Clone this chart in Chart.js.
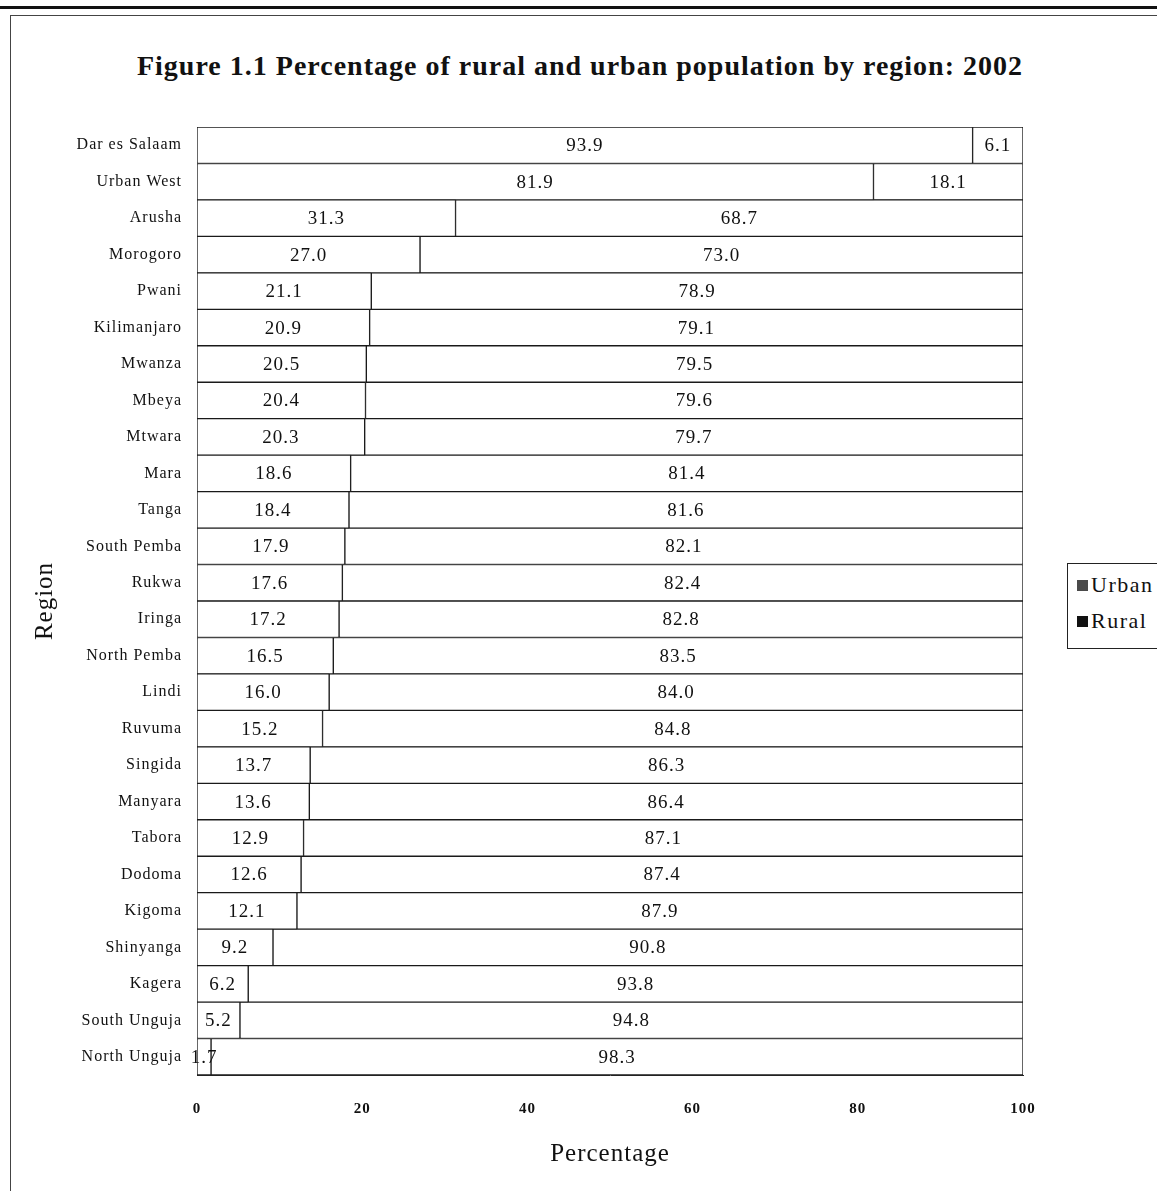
<!DOCTYPE html>
<html>
<head>
<meta charset="utf-8">
<script src="https://cdn.jsdelivr.net/npm/chart.js@4.4.1/dist/chart.umd.min.js"></script>
<style>
  html, body { margin: 0; padding: 0; background: #fff; overflow: hidden; }
  body { width: 1157px; height: 1191px; position: relative; font-family: "Liberation Serif", "DejaVu Serif", serif; color: #111; }
  #topRule { position: absolute; left: 0; top: 6px; width: 1157px; height: 3px; background: #111; }
  #frame { position: absolute; left: 10px; top: 15px; width: 1200px; height: 1250px; border: 1px solid #444; }
  #chart { position: absolute; left: 0; top: 0; }
  #title {
    position: absolute; left: 0; top: 48px; width: 1160px; text-align: center;
    font-size: 28px; font-weight: bold; letter-spacing: 1px; line-height: 36px; white-space: nowrap;
  }
  #legend {
    position: absolute; left: 1067px; top: 563px; width: 110px; height: 84px;
    border: 1px solid #222; background: #fff; font-size: 22px; letter-spacing: 1.5px;
  }
  #legend .item { position: absolute; left: 9px; height: 26px; line-height: 26px; white-space: nowrap; }
  #legend .swatch { display: inline-block; width: 11px; height: 11px; margin-right: 3px; vertical-align: 1px; }
</style>
</head>
<body>
<div id="topRule"></div>
<div id="frame"></div>
<div id="title">Figure 1.1 Percentage of rural and urban population by region: 2002</div>
<canvas id="chart" width="1157" height="1191"></canvas>
<div id="legend">
  <div class="item" style="top: 8px;"><span class="swatch" style="background:#4a4a4a;"></span>Urban</div>
  <div class="item" style="top: 44px;"><span class="swatch" style="background:#111;"></span>Rural</div>
</div>

<script>
const regions = [
  'Dar es Salaam', 'Urban West', 'Arusha', 'Morogoro', 'Pwani', 'Kilimanjaro',
  'Mwanza', 'Mbeya', 'Mtwara', 'Mara', 'Tanga', 'South Pemba', 'Rukwa', 'Iringa',
  'North Pemba', 'Lindi', 'Ruvuma', 'Singida', 'Manyara', 'Tabora', 'Dodoma',
  'Kigoma', 'Shinyanga', 'Kagera', 'South Unguja', 'North Unguja'
];
const urbanPct = [
  93.9, 81.9, 31.3, 27.0, 21.1, 20.9, 20.5, 20.4, 20.3, 18.6, 18.4, 17.9, 17.6,
  17.2, 16.5, 16.0, 15.2, 13.7, 13.6, 12.9, 12.6, 12.1, 9.2, 6.2, 5.2, 1.7
];
const ruralPct = [
  6.1, 18.1, 68.7, 73.0, 78.9, 79.1, 79.5, 79.6, 79.7, 81.4, 81.6, 82.1, 82.4,
  82.8, 83.5, 84.0, 84.8, 86.3, 86.4, 87.1, 87.4, 87.9, 90.8, 93.8, 94.8, 98.3
];
const xTicks = [0, 20, 40, 60, 80, 100];

const serif = '"Liberation Serif", "DejaVu Serif", serif';

// old typeset look: a little extra space between letters
const spacing = {
  id: 'spacing',
  beforeLayout(chart) { chart.ctx.letterSpacing = '1px'; },
  beforeDraw(chart) { chart.ctx.letterSpacing = '1px'; }
};

// write each segment's percentage in the middle of the segment
const segmentValues = {
  id: 'segmentValues',
  afterDatasetsDraw(chart) {
    const ctx = chart.ctx;
    ctx.save();
    ctx.font = '19px ' + serif;
    ctx.fillStyle = '#111';
    ctx.textAlign = 'center';
    ctx.textBaseline = 'middle';
    chart.data.datasets.forEach((ds, i) => {
      chart.getDatasetMeta(i).data.forEach((bar, j) => {
        ctx.fillText(ds.data[j].toFixed(1), (bar.x + bar.base) / 2, bar.y + 1);
      });
    });
    ctx.restore();
  }
};

const barStyle = {
  backgroundColor: '#fff',
  borderColor: '#1a1a1a',
  borderWidth: 1,
  borderSkipped: false,
  barPercentage: 1,
  categoryPercentage: 1
};

new Chart(document.getElementById('chart'), {
  type: 'bar',
  data: {
    labels: regions,
    datasets: [
      Object.assign({ label: 'Urban', data: urbanPct }, barStyle),
      Object.assign({ label: 'Rural', data: ruralPct }, barStyle)
    ]
  },
  options: {
    indexAxis: 'y',
    responsive: false,
    animation: false,
    devicePixelRatio: 1,
    layout: { padding: { left: 0, right: 134, top: 127, bottom: 0 } },
    plugins: {
      legend: { display: false },
      tooltip: { enabled: false },
      title: { display: false }
    },
    scales: {
      x: {
        stacked: true,
        min: 0,
        max: 100,
        afterBuildTicks(scale) { scale.ticks = xTicks.map(v => ({ value: v })); },
        afterFit(scale) { scale.height = 116; },
        grid: { display: false, drawTicks: false },
        border: { display: true, color: '#222', width: 1 },
        ticks: { color: '#111', padding: 25, font: { family: serif, size: 15, weight: 'bold' } },
        title: {
          display: true,
          text: 'Percentage',
          color: '#111',
          font: { family: serif, size: 25 },
          padding: { top: 0, bottom: 22 }
        }
      },
      y: {
        stacked: true,
        afterFit(scale) { scale.width = 197; },
        grid: { display: false, drawTicks: false },
        border: { display: false },
        ticks: { color: '#111', padding: 15, font: { family: serif, size: 16 } },
        title: {
          display: true,
          text: 'Region',
          color: '#111',
          font: { family: serif, size: 25 },
          padding: { top: 30, bottom: 0 }
        }
      }
    }
  },
  plugins: [spacing, segmentValues]
});
</script>
</body>
</html>
